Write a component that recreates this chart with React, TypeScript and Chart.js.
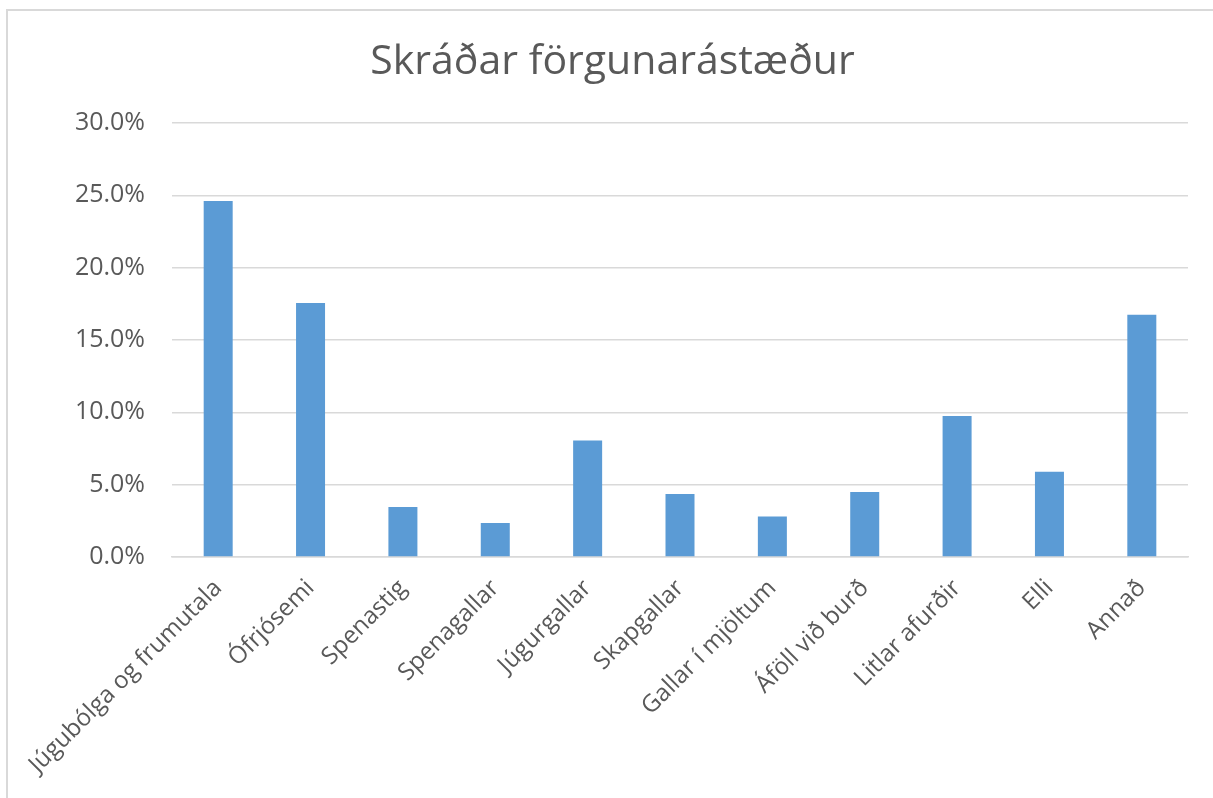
import React, { useEffect, useRef } from "react";
import { Chart, registerables } from "chart.js";

Chart.register(...registerables);

const TITLE = "Skráðar förgunarástæður";
const CATEGORIES = [
  "Júgubólga og frumutala",
  "Ófrjósemi",
  "Spenastig",
  "Spenagallar",
  "Júgurgallar",
  "Skapgallar",
  "Gallar í mjöltum",
  "Áföll við burð",
  "Litlar afurðir",
  "Elli",
  "Annað",
];
const VALUES = [24.6, 17.55, 3.45, 2.35, 8.05, 4.35, 2.8, 4.5, 9.75, 5.9, 16.75];
const Y_MIN = 0;
const Y_MAX = 30;
const Y_STEP = 5;

const FONT = "'Open Sans', 'DejaVu Sans', sans-serif";
const TEXT = "#595959";
const GRID = "#d9d9d9";
const BAR = "#5B9BD5";

const TITLE_SIZE = 41;
const TITLE_LH = 1.2;

export default function App() {
  const ref = useRef<HTMLCanvasElement | null>(null);

  useEffect(() => {
    if (!ref.current) return;
    const titleBox = TITLE_SIZE * TITLE_LH;
    const topPad = 62 - titleBox / 2;
    const chart = new Chart(ref.current, {
      type: "bar",
      data: {
        labels: CATEGORIES,
        datasets: [
          {
            data: VALUES,
            backgroundColor: BAR,
            borderWidth: 0,
            barPercentage: 0.314,
            categoryPercentage: 1,
          },
        ],
      },
      options: {
        animation: false,
        responsive: false,
        maintainAspectRatio: false,
        layout: { padding: { left: 37, right: 25, top: topPad, bottom: 0 } },
        plugins: {
          legend: { display: false },
          tooltip: { enabled: false },
          title: {
            display: true,
            text: TITLE,
            color: TEXT,
            font: { family: FONT, size: TITLE_SIZE, weight: "normal", lineHeight: TITLE_LH },
            padding: { top: 0, bottom: 123 - topPad - titleBox },
          },
        },
        scales: {
          x: {
            grid: { display: false, drawTicks: false },
            border: { display: true, color: GRID, width: 1.5 },
            ticks: {
              color: TEXT,
              font: { family: FONT, size: 24 },
              minRotation: 45,
              maxRotation: 45,
              autoSkip: false,
              padding: 17,
            },
            afterFit: (scale: any) => {
              scale.height = 798 - 557;
            },
          },
          y: {
            min: Y_MIN,
            max: Y_MAX,
            grid: { color: GRID, lineWidth: 1.5, drawTicks: false },
            border: { display: false },
            ticks: {
              stepSize: Y_STEP,
              color: TEXT,
              font: { family: FONT, size: 25 },
              padding: 27,
              callback: (v: any) => Number(v).toFixed(1) + "%",
            },
            afterFit: (scale: any) => {
              scale.width = 172 - 37;
            },
          },
        },
      },
    });
    return () => chart.destroy();
  }, []);

  return (
    <div
      style={{
        position: "fixed",
        left: 0,
        top: 0,
        width: 1213,
        height: 798,
        overflow: "hidden",
        background: "#fff",
      }}
    >
      <div
        style={{
          position: "absolute",
          left: 6,
          top: 9,
          width: 1300,
          height: 900,
          borderLeft: `2px solid ${GRID}`,
          borderTop: `2px solid ${GRID}`,
        }}
      />
      <canvas
        ref={ref}
        width={1213}
        height={798}
        style={{ position: "absolute", left: 0, top: 0, width: 1213, height: 798 }}
      />
    </div>
  );
}
